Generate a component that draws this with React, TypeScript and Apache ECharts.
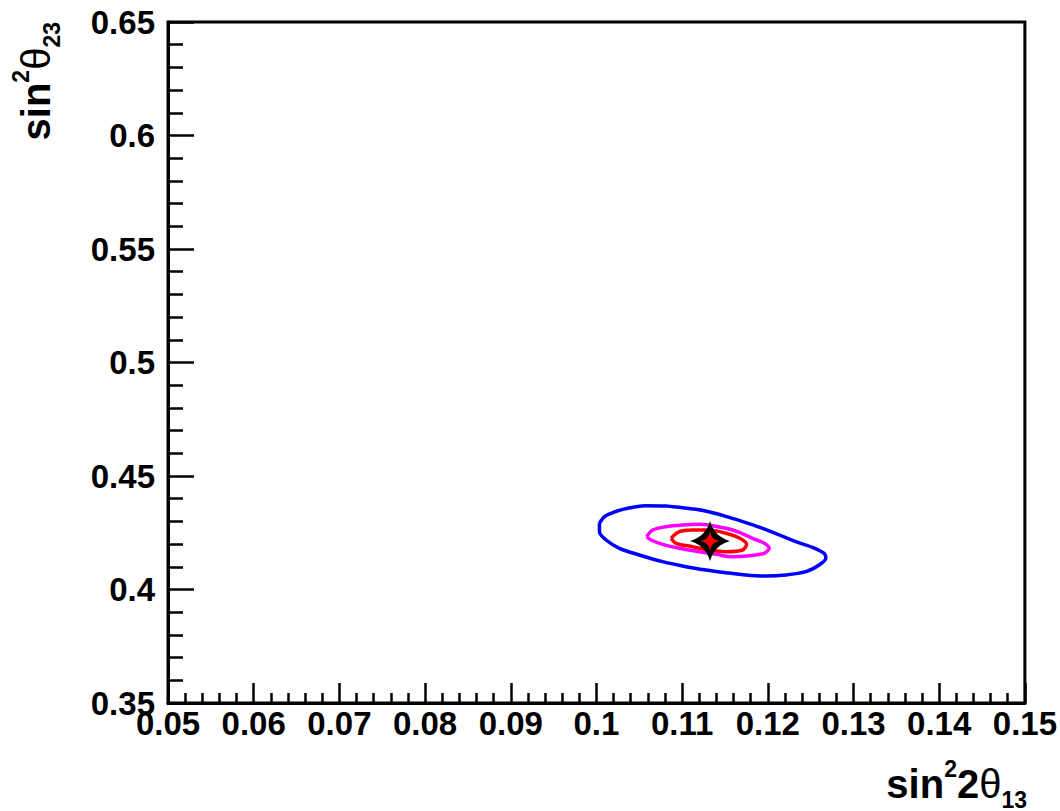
import React, { useEffect, useRef } from "react";
import * as echarts from "echarts";

const xTicks = { min: 0.05, max: 0.15, interval: 0.01 };
const yTicks = { min: 0.35, max: 0.65, interval: 0.05 };

// 1 sigma (red), 2 sigma (magenta), 3 sigma (blue) contours
const blueContour: [number, number][] = [
  [0.10035, 0.42915], [0.10093, 0.43208], [0.1019, 0.43384], [0.10307, 0.43531],
  [0.10462, 0.43649], [0.10579, 0.43693], [0.10812, 0.43678], [0.10968, 0.43619],
  [0.11162, 0.43531], [0.11356, 0.43384], [0.1155, 0.43179], [0.11744, 0.42944],
  [0.11939, 0.42694], [0.12133, 0.42401], [0.12327, 0.42107], [0.12522, 0.41857],
  [0.12657, 0.41593], [0.12677, 0.41373], [0.12599, 0.41079], [0.12444, 0.40785],
  [0.12211, 0.40639], [0.11978, 0.40594], [0.11744, 0.40639], [0.11511, 0.40741],
  [0.11278, 0.40859], [0.11045, 0.41006], [0.10773, 0.41226], [0.10501, 0.4152],
  [0.10268, 0.41813], [0.10113, 0.4218], [0.10035, 0.42548], [0.10035, 0.42915],
];

const magentaContour: [number, number][] = [
  [0.10586, 0.42326], [0.10656, 0.42621], [0.10812, 0.42767], [0.11006, 0.42841],
  [0.112, 0.42872], [0.11512, 0.42696], [0.11667, 0.4252], [0.11822, 0.42256],
  [0.11958, 0.42035], [0.12016, 0.41815], [0.11958, 0.41595], [0.11783, 0.41489],
  [0.11589, 0.41445], [0.11395, 0.41551], [0.112, 0.41665], [0.10967, 0.41815],
  [0.10772, 0.41991], [0.10637, 0.42181], [0.10586, 0.42326],
];

const redContour: [number, number][] = [
  [0.10871, 0.42256], [0.10967, 0.42546], [0.11119, 0.42621], [0.11317, 0.42621],
  [0.11512, 0.42476], [0.11667, 0.42269], [0.11752, 0.41991], [0.11705, 0.4174],
  [0.11512, 0.41665], [0.11317, 0.4174], [0.11122, 0.41885], [0.10929, 0.42035],
  [0.10871, 0.42256],
];

const bestFit: [number, number][] = [[0.11325, 0.42137]];

const starPath =
  "path://M0,-1 Q0.22,-0.22 1,0 Q0.22,0.22 0,1 Q-0.22,0.22 -1,0 Q-0.22,-0.22 0,-1 Z";
const innerStarPath =
  "path://M0,-1 Q0.1,-0.1 1,0 Q0.1,0.1 0,1 Q-0.1,0.1 -1,0 Q-0.1,-0.1 0,-1 Z";

const FONT = "'Liberation Sans', Arial, Helvetica, sans-serif";

const fmt = (v: number) => String(+v.toFixed(3));

const titleRich = {
  m: { fontSize: 40, fontWeight: "bold", fontFamily: FONT, lineHeight: 54, color: "#000" },
  t: { fontSize: 40, fontWeight: "normal", fontFamily: FONT, lineHeight: 54, color: "#000" },
  sup: { fontSize: 23, fontWeight: "bold", fontFamily: FONT, lineHeight: 23, verticalAlign: "top", color: "#000" },
  sub: { fontSize: 23, fontWeight: "bold", fontFamily: FONT, lineHeight: 23, verticalAlign: "bottom", color: "#000" },
};

export default function App() {
  const ref = useRef<HTMLDivElement>(null);
  useEffect(() => {
    if (!ref.current) return;
    const chart = echarts.init(ref.current, undefined, { renderer: "svg" });
    const lineSeries = (data: [number, number][], color: string) => ({
      type: "line",
      data,
      showSymbol: false,
      symbol: "none",
      smooth: 0.3,
      lineStyle: { color, width: 3.5 },
      silent: true,
    });
    chart.setOption({
      animation: false,
      backgroundColor: "#fff",
      grid: {
        left: 168,
        right: 34,
        top: 22,
        bottom: 108,
        show: true,
        borderColor: "#000",
        borderWidth: 3,
        backgroundColor: "transparent",
      },
      xAxis: {
        type: "value",
        min: xTicks.min,
        max: xTicks.max,
        interval: xTicks.interval,
        axisLine: { show: true, lineStyle: { color: "#000", width: 3 } },
        axisTick: { show: true, inside: true, length: 20, lineStyle: { color: "#000", width: 2.5 } },
        minorTick: { show: true, splitNumber: 5, length: 10, lineStyle: { color: "#000", width: 2.5 } },
        splitLine: { show: false },
        axisLabel: {
          show: true,
          margin: 4,
          color: "#000",
          fontSize: 33,
          fontWeight: "bold",
          fontFamily: FONT,
          showMinLabel: true,
          showMaxLabel: true,
          formatter: fmt,
        },
      },
      yAxis: {
        type: "value",
        min: yTicks.min,
        max: yTicks.max,
        interval: yTicks.interval,
        axisLine: { show: true, lineStyle: { color: "#000", width: 3 } },
        axisTick: { show: true, inside: true, length: 26, lineStyle: { color: "#000", width: 2.5 } },
        minorTick: { show: true, splitNumber: 5, length: 15, lineStyle: { color: "#000", width: 2.5 } },
        splitLine: { show: false },
        axisLabel: {
          show: true,
          margin: 13,
          color: "#000",
          fontSize: 33,
          fontWeight: "bold",
          fontFamily: FONT,
          showMinLabel: true,
          showMaxLabel: true,
          formatter: fmt,
        },
      },
      series: [
        lineSeries(blueContour, "#0000ff"),
        lineSeries(magentaContour, "#ff00ff"),
        lineSeries(redContour, "#ff0000"),
        {
          type: "scatter",
          data: bestFit,
          symbol: starPath,
          symbolSize: [40, 40],
          itemStyle: { color: "#000", opacity: 1 },
          silent: true,
          z: 5,
        },
        {
          type: "scatter",
          data: bestFit,
          symbol: innerStarPath,
          symbolSize: [20, 20],
          itemStyle: { color: "#ff0000", opacity: 1 },
          silent: true,
          z: 6,
        },
      ],
      graphic: [
        {
          type: "text",
          x: 1027,
          y: 784,
          style: {
            text: "{m|sin}{sup|2}{m|2}{t|θ}{sub|13}",
            rich: titleRich,
            align: "right",
            verticalAlign: "middle",
          },
        },
        {
          type: "text",
          x: 36,
          y: 22,
          rotation: Math.PI / 2,
          style: {
            text: "{m|sin}{sup|2}{t|θ}{sub|23}",
            rich: titleRich,
            align: "right",
            verticalAlign: "middle",
          },
        },
      ],
    });
    return () => chart.dispose();
  }, []);
  return (
    <div
      ref={ref}
      style={{ position: "fixed", left: 0, top: 0, width: 1060, height: 811, background: "#fff" }}
    />
  );
}
